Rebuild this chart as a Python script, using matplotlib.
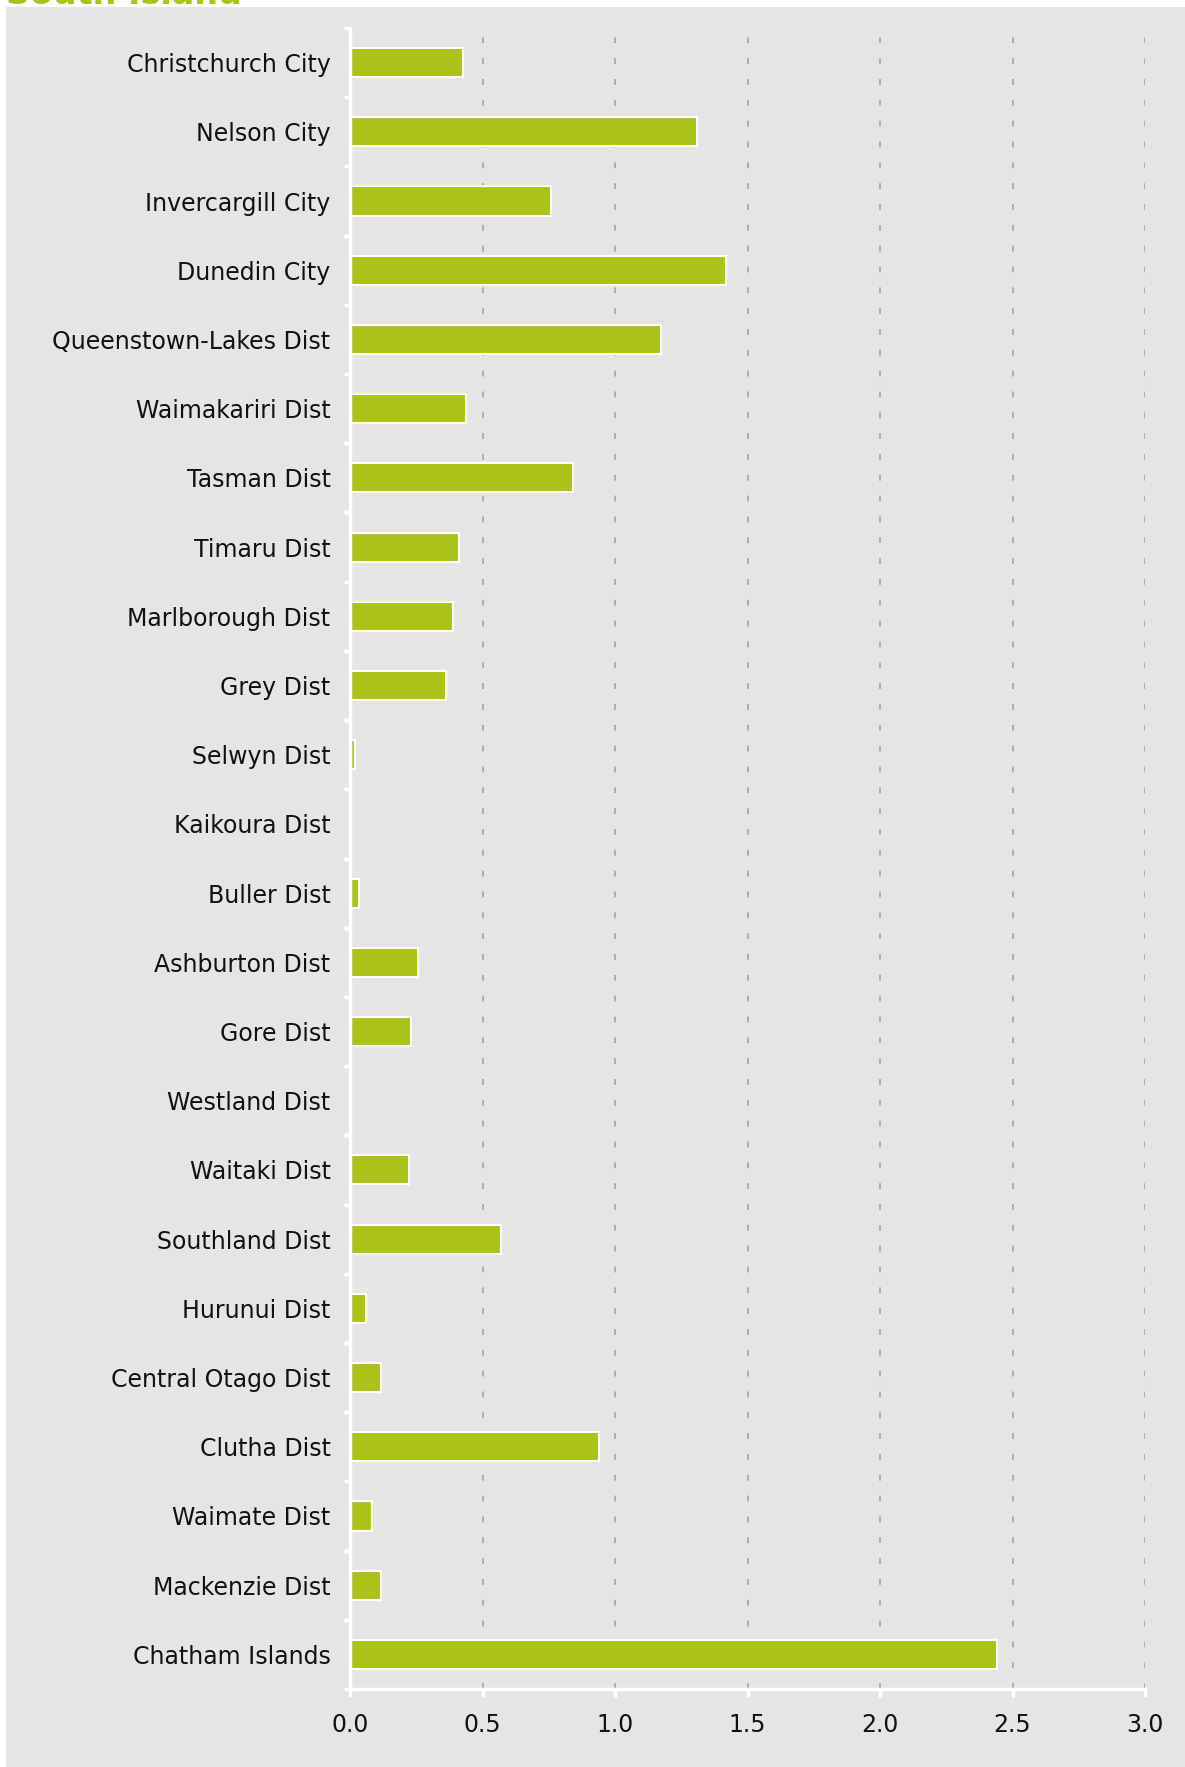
import numpy as np
import matplotlib.pyplot as plt
from matplotlib.patches import Rectangle

# territorial authorities, top to bottom
areas = ['Christchurch City', 'Nelson City', 'Invercargill City', 'Dunedin City',
         'Queenstown-Lakes Dist', 'Waimakariri Dist', 'Tasman Dist', 'Timaru Dist',
         'Marlborough Dist', 'Grey Dist', 'Selwyn Dist', 'Kaikoura Dist',
         'Buller Dist', 'Ashburton Dist', 'Gore Dist', 'Westland Dist',
         'Waitaki Dist', 'Southland Dist', 'Hurunui Dist', 'Central Otago Dist',
         'Clutha Dist', 'Waimate Dist', 'Mackenzie Dist', 'Chatham Islands']
values = [0.427, 1.309, 0.758, 1.42, 1.175, 0.437, 0.841, 0.41,
          0.389, 0.362, 0.02, 0.0, 0.033, 0.257, 0.229, 0.0,
          0.223, 0.57, 0.061, 0.118, 0.939, 0.082, 0.118, 2.443]
xticks = [0.0, 0.5, 1.0, 1.5, 2.0, 2.5, 3.0]

green = '#abc319'
panel = '#e5e5e5'

fig = plt.figure(figsize=(11.85, 17.67), dpi=100)
fig.patch.set_facecolor('white')
fig.patches.append(Rectangle((6 / 1185, 0), 1, 1 - 7 / 1767, transform=fig.transFigure,
                             facecolor=panel, edgecolor='none', zorder=-1))
fig.text(6 / 1185, 1 - 4 / 1767, 'South Island', color=green, fontsize=24,
         fontweight='bold', va='baseline', ha='left')

ax = fig.add_axes([350 / 1185, 78 / 1767, 795 / 1185, (1689 - 28) / 1767])
ax.set_facecolor(panel)

y = np.arange(len(areas))
ax.barh(y, values, height=0.42, color=green, edgecolor='white', linewidth=1.5, zorder=3)

ax.set_xlim(0, 3.0)
ax.set_ylim(len(areas) - 0.5, -0.5)

for v in xticks[1:]:
    ax.axvline(v, color='#a3a3a3', lw=1.2, ls=(0, (3.5, 9)), zorder=1)

ax.set_xticks(xticks)
ax.set_xticklabels(['%.1f' % v for v in xticks])
ax.set_yticks(y)
ax.set_yticklabels(areas)
ax.set_yticks(np.arange(-0.5, len(areas)), minor=True)

ax.tick_params(axis='y', which='major', length=0, pad=14, labelsize=17, labelcolor='#111111')
ax.tick_params(axis='y', which='minor', length=4, width=2.5, color='white', direction='out')
ax.tick_params(axis='x', length=6, width=2.5, color='white', pad=11, labelsize=17,
               labelcolor='#111111')

for s in ['top', 'right']:
    ax.spines[s].set_visible(False)
for s in ['left', 'bottom']:
    ax.spines[s].set_color('white')
    ax.spines[s].set_linewidth(2.5)
    ax.spines[s].set_zorder(4)

plt.savefig('out.png', dpi=100)
